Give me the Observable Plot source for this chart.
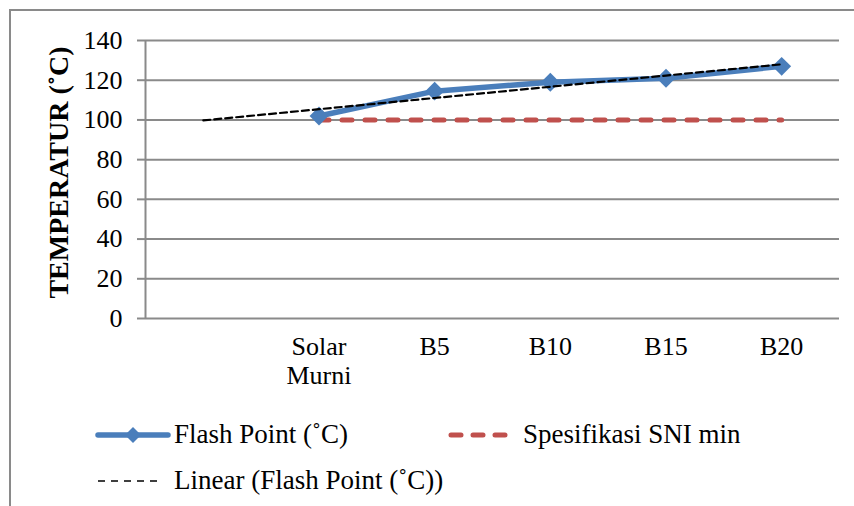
<!DOCTYPE html>
<html>
<head>
<meta charset="utf-8">
<script src="https://cdn.jsdelivr.net/npm/d3@7"></script>
<script src="https://cdn.jsdelivr.net/npm/@observablehq/plot@0.6"></script>
<style>
  html, body { margin: 0; padding: 0; background: #fff; }
  #wrap { position: relative; width: 854px; height: 506px; overflow: hidden; font-family: "Liberation Serif", "Times New Roman", serif; }
  #frame { position: absolute; left: 9px; top: 9px; width: 900px; height: 600px; border-left: 2px solid #8a8a8a; border-top: 2px solid #8a8a8a; }
  #chart { position: absolute; left: 0; top: 0; }
  .leg { position: absolute; font-size: 27px; line-height: 30px; color: #000; white-space: nowrap; }
  .sw { position: absolute; }
</style>
</head>
<body>
<div id="wrap">
  <div id="frame"></div>
  <div id="chart"></div>
</div>
<script>
// ---- data ----
const categories = ["", "Solar Murni", "B5", "B10", "B15", "B20"];
const flashPoint = [null, 102, 114.5, 119, 121, 127];
const sniMin = [null, 100, 100, 100, 100, 100];
const yTicks = [0, 20, 40, 60, 80, 100, 120, 140];
const seriesNames = ["Flash Point (˚C)", "Spesifikasi SNI min", "Linear (Flash Point (˚C))"];

const blue = "#4A7EBB";
const red = "#C0504D";
const gray = "#8a8a8a";

// category i sits at centre i + 0.5 of a linear axis
const rows = categories.map((c, i) => ({i, x: i + 0.5, cat: c, fp: flashPoint[i], sni: sniMin[i]}));

// linear trendline (least squares) over the defined flash point values
const pts = rows.filter(d => d.fp != null);
const mx = d3.mean(pts, d => d.i), my = d3.mean(pts, d => d.fp);
const slope = d3.sum(pts, d => (d.i - mx) * (d.fp - my)) / d3.sum(pts, d => (d.i - mx) ** 2);
const trend = rows.map(d => ({x: d.x, y: my + slope * (d.i - mx)}));

const xTicks = rows.filter(d => d.cat !== "").map(d => d.x);
const fmt = v => categories[Math.round(v - 0.5)].replace(" ", "\n");

const chart = Plot.plot({
  width: 854,
  height: 400,
  marginLeft: 145,
  marginRight: 15,
  marginTop: 40,
  marginBottom: 82,
  style: {fontFamily: "'Liberation Serif', 'Times New Roman', serif", fontSize: "26px", color: "#000", background: "transparent"},
  x: {type: "linear", domain: [0, categories.length]},
  y: {domain: [0, 140]},
  marks: [
    Plot.gridY(yTicks, {stroke: gray, strokeOpacity: 1, strokeWidth: 2}),
    Plot.ruleX([0], {y1: 0, y2: 140, stroke: gray, strokeWidth: 2}),
    Plot.axisY(yTicks, {tickSize: 8, tickPadding: 15, stroke: gray, strokeWidth: 2, fill: "#000", fontSize: 26, label: null}),
    Plot.axisX(xTicks, {tickSize: 0, tickPadding: 17, tickFormat: fmt, fill: "#000", fontSize: 26, lineHeight: 1.08, label: null}),
    Plot.text(["TEMPERATUR (˚C)"], {frameAnchor: "left", dx: -86, dy: -7, rotate: -90, textAnchor: "middle", lineAnchor: "middle", fontWeight: "bold", fontSize: 28, fill: "#000"}),
    Plot.line(rows, {x: "x", y: "sni", stroke: red, strokeWidth: 5, strokeDasharray: "10,13", strokeLinecap: "round"}),
    Plot.line(rows, {x: "x", y: "fp", stroke: blue, strokeWidth: 5.5, strokeLinejoin: "round"}),
    Plot.dot(rows.filter(d => d.fp != null), {x: "x", y: "fp", symbol: "diamond2", r: 8.5, fill: blue, stroke: "none"}),
    Plot.line(trend, {x: "x", y: "y", stroke: "#000", strokeWidth: 2.2, strokeDasharray: "7,4"})
  ]
});
document.getElementById("chart").appendChild(chart);

// ---- legend ----
const wrap = document.getElementById("wrap");
function add(html) { wrap.insertAdjacentHTML("beforeend", html); }
add(`<svg class="sw" style="left:95px;top:425px" width="76" height="20">
  <line x1="3" y1="10" x2="73" y2="10" stroke="${blue}" stroke-width="5.5" stroke-linecap="round"/>
  <path d="M38,2 L46,10 L38,18 L30,10 Z" fill="${blue}"/></svg>`);
add(`<div class="leg" style="left:174px;top:419px">${seriesNames[0]}</div>`);
add(`<svg class="sw" style="left:446px;top:425px" width="68" height="20">
  <line x1="5" y1="10" x2="64" y2="10" stroke="${red}" stroke-width="5" stroke-dasharray="10,12" stroke-linecap="round"/></svg>`);
add(`<div class="leg" style="left:523px;top:419px">${seriesNames[1]}</div>`);
add(`<svg class="sw" style="left:96px;top:471px" width="68" height="20">
  <line x1="2" y1="10" x2="64" y2="10" stroke="#000" stroke-width="1.6" stroke-dasharray="7,6"/></svg>`);
add(`<div class="leg" style="left:174px;top:465px">${seriesNames[2]}</div>`);
</script>
</body>
</html>
